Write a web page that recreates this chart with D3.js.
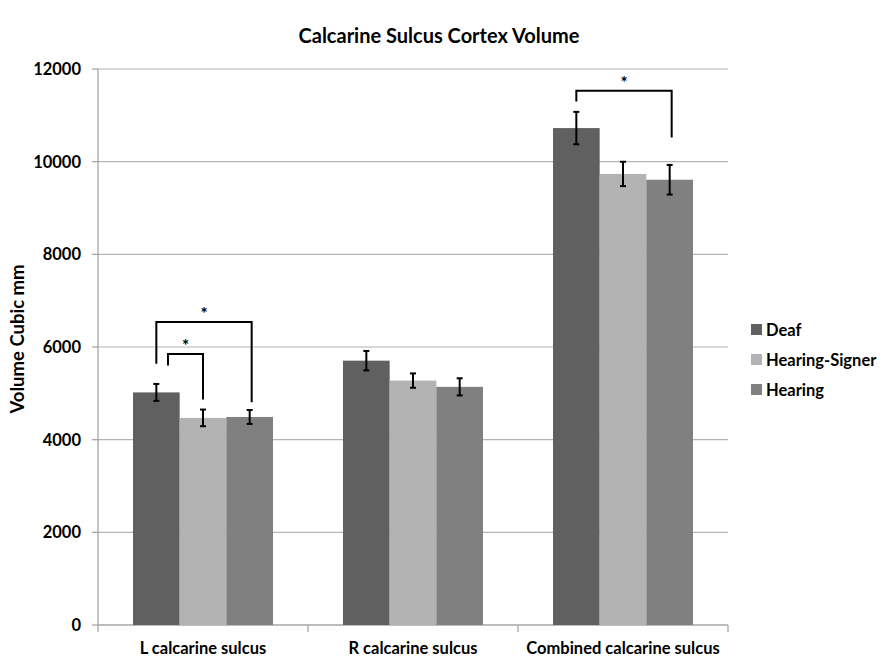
<!DOCTYPE html>
<html>
<head>
<meta charset="utf-8">
<script src="https://cdn.jsdelivr.net/npm/d3@7"></script>
<style>
  body { margin: 0; background: #fff; }
  text { font-family: Lato, "Open Sans", sans-serif; font-weight: bold; fill: #000; }
</style>
</head>
<body>
<script>
var outerWidth = 892;
var outerHeight = 665;
var margin = {left: 98, top: 69, bottom: 40, right: 164};
var innerWidth = outerWidth - margin.left - margin.right;
var innerHeight = outerHeight - margin.top - margin.bottom;

// chart values
var categories = ["L calcarine sulcus", "R calcarine sulcus", "Combined calcarine sulcus"];
var groups = ["Deaf", "Hearing-Signer", "Hearing"];
var deaf = [5020, 5705, 10725];
var hearingSigner = [4470, 5275, 9735];
var hearing = [4490, 5140, 9610];
var deafErr = [183, 210, 350];
var hearingSignerErr = [180, 155, 263];
var hearingErr = [150, 185, 320];
var yTicks = [0, 2000, 4000, 6000, 8000, 10000, 12000];
// significance brackets: category, from group, to group, bar top, left end, right end
var brackets = [
  {cat: 0, from: 0, to: 2, top: 6540, left: 5640, right: 4805, level: 0},
  {cat: 0, from: 0, to: 1, top: 5850, left: 5600, right: 4865, level: 1},
  {cat: 2, from: 0, to: 2, top: 11530, left: 11300, right: 10520, level: 0}
];

var values = [deaf, hearingSigner, hearing];
var errors = [deafErr, hearingSignerErr, hearingErr];
var colors = ["#606060", "#b3b3b3", "#808080"];

var svg = d3.select("body").append("svg")
    .attr("width", outerWidth)
    .attr("height", outerHeight);

var g = svg.append("g")
    .attr("transform", "translate(" + margin.left + "," + margin.top + ")");

var x0 = d3.scaleBand()
    .domain(categories)
    .range([0, innerWidth]);

var x1 = d3.scaleBand()
    .domain(d3.range(groups.length))
    .range([35, x0.bandwidth() - 35]);

var y = d3.scaleLinear()
    .domain([0, 12000])
    .range([innerHeight, 0]);

// gridlines
g.selectAll(".grid")
    .data(yTicks.slice(1))
    .enter().append("line")
    .attr("x1", 0)
    .attr("x2", innerWidth)
    .attr("y1", function(d) { return y(d); })
    .attr("y2", function(d) { return y(d); })
    .attr("stroke", "#b4b4b4")
    .attr("stroke-width", 1.2);

// y axis (labels drawn as plain text)
g.selectAll(".ytick")
    .data(yTicks)
    .enter().append("line")
    .attr("x1", -6).attr("x2", 0)
    .attr("y1", function(d) { return y(d); })
    .attr("y2", function(d) { return y(d); })
    .attr("stroke", "#a6a6a6").attr("stroke-width", 1.3);
g.append("line")
    .attr("y1", 0).attr("y2", innerHeight)
    .attr("stroke", "#a6a6a6").attr("stroke-width", 1.3);
g.selectAll(".ylabel")
    .data(yTicks)
    .enter().append("text")
    .attr("x", -17)
    .attr("y", function(d) { return y(d) + 6; })
    .attr("text-anchor", "end")
    .style("font-size", "16.5px")
    .text(function(d) { return d; });

// x axis, ticks between categories
var xAxis = g.append("g")
    .attr("transform", "translate(0," + innerHeight + ")");
xAxis.append("line")
    .attr("x1", 0).attr("x2", innerWidth)
    .attr("stroke", "#a6a6a6").attr("stroke-width", 1.3);
xAxis.selectAll(".xtick")
    .data(d3.range(categories.length + 1))
    .enter().append("line")
    .attr("x1", function(i) { return i * x0.step(); })
    .attr("x2", function(i) { return i * x0.step(); })
    .attr("y1", 0).attr("y2", 7)
    .attr("stroke", "#a6a6a6").attr("stroke-width", 1.3);
xAxis.selectAll(".xlabel")
    .data(categories)
    .enter().append("text")
    .attr("x", function(d) { return x0(d) + x0.bandwidth() / 2; })
    .attr("y", 29)
    .attr("text-anchor", "middle")
    .style("font-size", "16.5px")
    .text(function(d) { return d; });

// bars
var cat = g.selectAll(".cat")
    .data(categories)
    .enter().append("g")
    .attr("transform", function(d) { return "translate(" + x0(d) + ",0)"; });

cat.selectAll("rect")
    .data(function(d, i) { return groups.map(function(s, k) { return {k: k, v: values[k][i]}; }); })
    .enter().append("rect")
    .attr("x", function(d) { return x1(d.k); })
    .attr("width", x1.bandwidth())
    .attr("y", function(d) { return y(d.v); })
    .attr("height", function(d) { return innerHeight - y(d.v); })
    .attr("fill", function(d) { return colors[d.k]; });

// error bars
var err = cat.selectAll(".err")
    .data(function(d, i) { return groups.map(function(s, k) { return {k: k, v: values[k][i], e: errors[k][i]}; }); })
    .enter().append("g")
    .attr("transform", function(d) { return "translate(" + (x1(d.k) + x1.bandwidth() / 2) + ",0)"; });
err.append("line")
    .attr("y1", function(d) { return y(d.v - d.e); })
    .attr("y2", function(d) { return y(d.v + d.e); })
    .attr("stroke", "#000").attr("stroke-width", 2);
err.selectAll(".cap")
    .data(function(d) { return [d.v - d.e, d.v + d.e]; })
    .enter().append("line")
    .attr("x1", -3).attr("x2", 3)
    .attr("y1", function(d) { return y(d); })
    .attr("y2", function(d) { return y(d); })
    .attr("stroke", "#000").attr("stroke-width", 2);

// significance brackets
function barCenter(c, k) {
  return x0(categories[c]) + x1(k) + x1.bandwidth() / 2;
}
brackets.forEach(function(b) {
  var xl = barCenter(b.cat, b.from) + b.level * x1.bandwidth() / 4;
  var xr = barCenter(b.cat, b.to) + (b.level ? 0 : 2);
  g.append("path")
      .attr("d", "M" + xl + "," + y(b.left) + "V" + y(b.top) + "H" + xr + "V" + y(b.right))
      .attr("fill", "none")
      .attr("stroke", "#000")
      .attr("stroke-width", 2);
  g.append("text")
      .attr("x", (xl + xr) / 2)
      .attr("y", y(b.top) - 2)
      .attr("text-anchor", "middle")
      .style("font-size", "17px")
      .attr("fill", "#222")
      .text("*");
});

// title
svg.append("text")
    .attr("x", 439)
    .attr("y", 43)
    .attr("text-anchor", "middle")
    .style("font-size", "20px")
    .text("Calcarine Sulcus Cortex Volume");

// y label
svg.append("text")
    .attr("transform", "translate(24," + (margin.top + innerHeight / 2 - 8) + ") rotate(-90)")
    .attr("text-anchor", "middle")
    .style("font-size", "18.5px")
    .text("Volume Cubic mm");

// legend
var legend = svg.append("g")
    .attr("transform", "translate(751,324)");
var item = legend.selectAll(".item")
    .data(groups)
    .enter().append("g")
    .attr("transform", function(d, i) { return "translate(0," + i * 30 + ")"; });
item.append("rect")
    .attr("width", 11).attr("height", 11)
    .attr("fill", function(d, i) { return colors[i]; });
item.append("text")
    .attr("x", 15)
    .attr("y", 11.5)
    .style("font-size", "16.5px")
    .text(function(d) { return d; });
</script>
</body>
</html>
